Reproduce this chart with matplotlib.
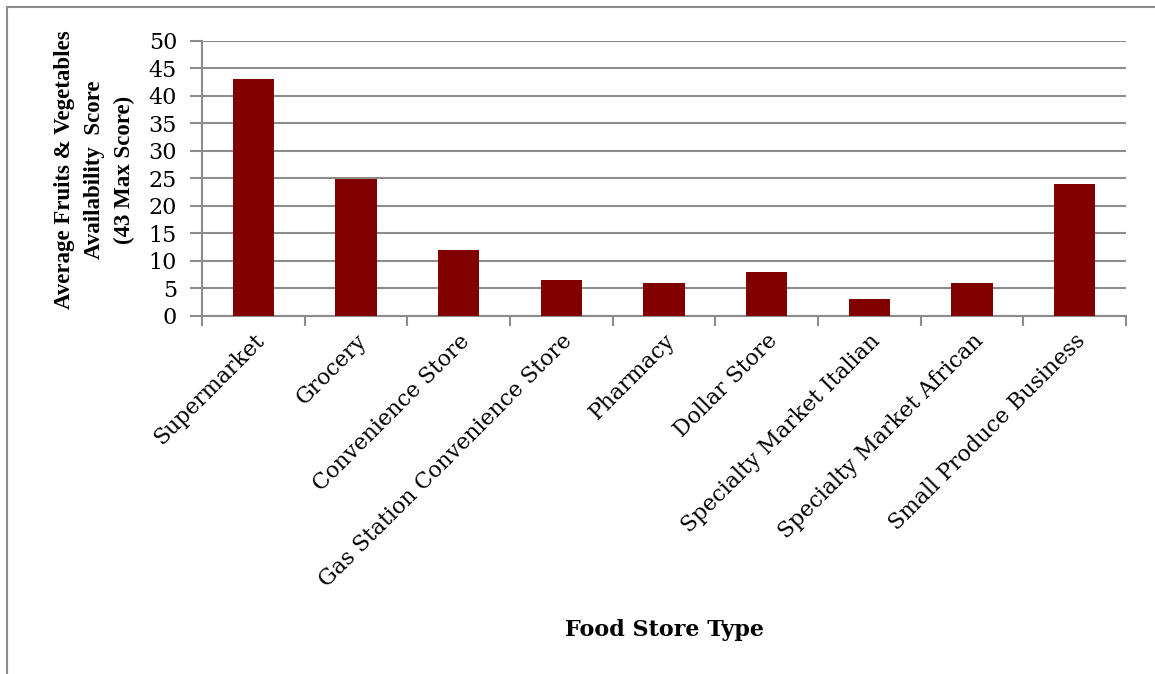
import matplotlib.pyplot as plt
import numpy as np
from matplotlib.patches import Rectangle

stores = ['Supermarket', 'Grocery', 'Convenience Store', 'Gas Station Convenience Store',
          'Pharmacy', 'Dollar Store', 'Specialty Market Italian', 'Specialty Market African',
          'Small Produce Business']
scores = [43, 24.8, 12, 6.6, 5.9, 8, 3, 6, 24]

plt.rcParams['font.family'] = ['DejaVu Serif', 'Liberation Serif']

fig = plt.figure(figsize=(11.55, 6.74), dpi=100)
ax = fig.add_axes([0.1749, 0.5312, 0.80, 0.4085])

x = np.arange(len(stores))
ax.bar(x, scores, width=0.4, color='#800000', zorder=3)

ax.set_xlim(-0.5, len(stores) - 0.5)
ax.set_ylim(0, 50)
ax.set_yticks(np.arange(0, 51, 5))
ax.yaxis.grid(True, color='#8c8c8c', linewidth=1.5, zorder=0)

ax.set_xticks(x)
ax.set_xticklabels(stores, rotation=45, ha='right', rotation_mode='anchor', fontsize=15.8)
ax.set_xticks(np.arange(-0.5, len(stores), 1), minor=True)
ax.tick_params(axis='x', which='major', length=0, pad=10)
ax.tick_params(axis='x', which='minor', length=7, color='#8c8c8c', width=1.5)
ax.tick_params(axis='y', length=9, color='#8c8c8c', width=1.5, labelsize=16, pad=9)

for s in ['top', 'right']:
    ax.spines[s].set_visible(False)
for s in ['left', 'bottom']:
    ax.spines[s].set_color('#8c8c8c')
    ax.spines[s].set_linewidth(1.5)

ax.set_xlabel('Food Store Type', fontsize=16, fontweight='bold')
ax.xaxis.set_label_coords(0.5, -1.10)
ax.set_ylabel('Average Fruits & Vegetables\nAvailability  Score\n(43 Max Score)',
              fontsize=16.5, fontweight='bold', family='Liberation Serif', linespacing=1.55)
ax.yaxis.set_label_coords(-0.073, 0.53)

fig.patches.append(Rectangle((0.006, -0.01), 1.1, 1.0, transform=fig.transFigure,
                             fill=False, edgecolor='#8c8c8c', linewidth=1.5))

fig.savefig('out.png', dpi=100)
